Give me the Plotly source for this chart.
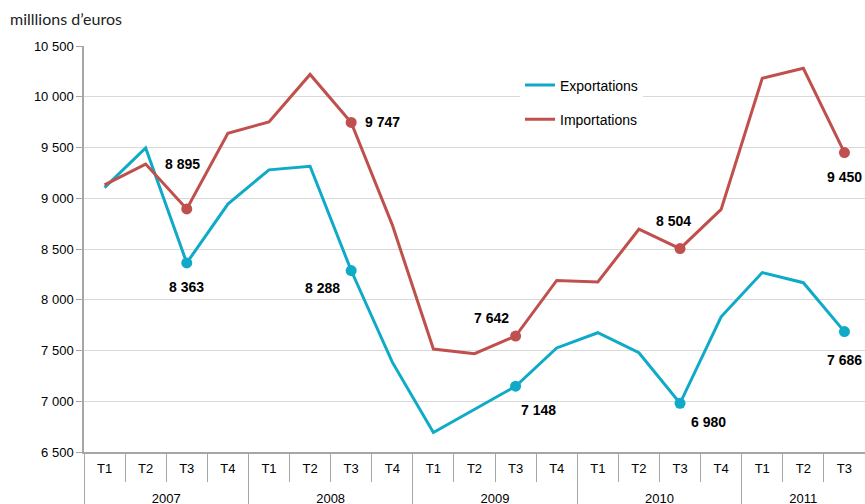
import plotly.graph_objects as go

years = ["2007"] * 4 + ["2008"] * 4 + ["2009"] * 4 + ["2010"] * 4 + ["2011"] * 3
quarters = ["T1", "T2", "T3", "T4"] * 4 + ["T1", "T2", "T3"]
exportations = [9105, 9495, 8363, 8943, 9280, 9315, 8288, 7385, 6692, 6922,
                7148, 7525, 7675, 7478, 6980, 7832, 8268, 8168, 7686]
importations = [9132, 9337, 8895, 9640, 9752, 10220, 9747, 8738, 7514, 7469,
                7642, 8190, 8175, 8695, 8504, 8890, 10182, 10280, 9450]
labelled = [2, 6, 10, 14, 18]
y_ticks = [6500, 7000, 7500, 8000, 8500, 9000, 9500, 10000, 10500]

BLUE = "#0FAAC8"
RED = "#C0504D"
SANS = "Liberation Sans, Arial, sans-serif"

# label offsets (px): (dx, dy) where dy positive = up
exp_off = [(0, -24), (-29, -17), (23, -24), (28, -19), (0, -28)]
imp_off = [(-4, 45), (31, 0), (-24, 18), (-7, 28), (0, -24)]

# outer (year) level pushed one line lower, like the reference
year_lbl = ["<br>" + y for y in years]
xcat = [year_lbl, quarters]
xsel = [[year_lbl[i] for i in labelled], [quarters[i] for i in labelled]]

fig = go.Figure()
fig.add_trace(go.Scatter(x=xcat, y=exportations, mode="lines",
                         name="Exportations", line=dict(color=BLUE, width=3),
                         legendgroup="a"))
fig.add_trace(go.Scatter(x=xcat, y=importations, mode="lines",
                         name="Importations", line=dict(color=RED, width=3),
                         legendgroup="b"))
fig.add_trace(go.Scatter(x=xsel, y=[exportations[i] for i in labelled], mode="markers",
                         marker=dict(color=BLUE, size=11), showlegend=False, hoverinfo="skip"))
fig.add_trace(go.Scatter(x=xsel, y=[importations[i] for i in labelled], mode="markers",
                         marker=dict(color=RED, size=11), showlegend=False, hoverinfo="skip"))


def fmt(v):
    return f"{v:,}".replace(",", " ")


for k, i in enumerate(labelled):
    for series, off in ((exportations, exp_off), (importations, imp_off)):
        fig.add_annotation(x=i, y=series[i], xref="x", yref="y", text="<b>%s</b>" % fmt(series[i]),
                           showarrow=False, xshift=off[k][0], yshift=off[k][1],
                           font=dict(family=SANS, size=14, color="#000000"))

fig.add_annotation(xref="paper", yref="paper", x=(8 - 84) / 781, y=1 + (46 - 18.5) / 406,
                   xanchor="left", yanchor="middle", showarrow=False,
                   text="milllions d’euros",
                   font=dict(family="Lato, Noto Sans, sans-serif", size=16, color="#222222"))

fig.update_layout(
    width=865, height=504,
    margin=dict(l=84, r=0, t=46, b=52),
    paper_bgcolor="white", plot_bgcolor="white",
    separators=", ",
    showlegend=True,
    legend=dict(x=(520 - 84) / 781, y=1 - (69.5 - 46) / 406, xanchor="left", yanchor="top",
                bgcolor="white", tracegroupgap=13, traceorder="grouped",
                font=dict(family=SANS, size=14, color="#000000"),
                itemwidth=30),
    xaxis=dict(type="multicategory", range=[-0.5, 18.5], tickson="boundaries",
               ticks="outside", ticklen=28, tickcolor="#A6A6A6",
               showdividers=True, dividercolor="#A6A6A6", dividerwidth=1,
               showline=True, linecolor="#A6A6A6", linewidth=1.5,
               showgrid=False, automargin=False, ticklabelstandoff=4,
               tickfont=dict(family=SANS, size=13, color="#000000")),
    yaxis=dict(range=[6500, 10500], tickvals=y_ticks, tickformat=",d",
               showgrid=True, gridcolor="#D9D9D9", gridwidth=1,
               showline=True, linecolor="#A6A6A6", linewidth=1.5,
               ticks="outside", ticklen=6, tickcolor="#A6A6A6",
               zeroline=False, automargin=False,
               tickfont=dict(family=SANS, size=13, color="#000000")),
)

fig.write_html("out.html", config={"displayModeBar": False},
               post_script="document.body.style.margin='0';document.body.style.overflow='hidden';")
